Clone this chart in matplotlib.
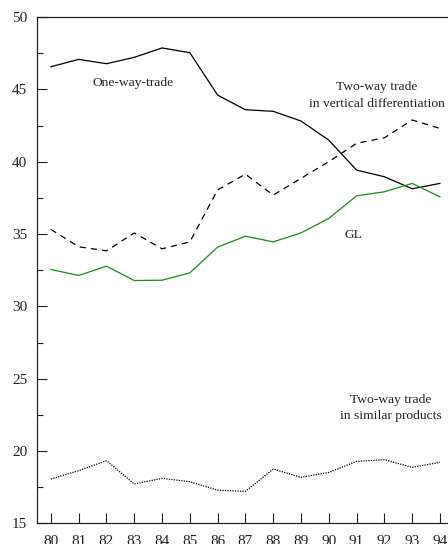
import matplotlib
matplotlib.use("Agg")
import matplotlib.pyplot as plt
from matplotlib.ticker import MultipleLocator

plt.rcParams['font.family'] = ['Liberation Serif', 'DejaVu Serif']

years = list(range(80, 95))
year_labels = [str(y) for y in years]

one_way = [46.56, 47.07, 46.77, 47.21, 47.86, 47.53, 44.6, 43.59, 43.48,
           42.81, 41.49, 39.42, 38.96, 38.13, 38.5]
vertical = [35.32, 34.12, 33.84, 35.08, 33.98, 34.46, 38.05, 39.14, 37.69,
            38.85, 40.0, 41.27, 41.65, 42.88, 42.3]
gl = [32.55, 32.14, 32.78, 31.79, 31.81, 32.32, 34.1, 34.85, 34.46,
      35.08, 36.08, 37.64, 37.92, 38.5, 37.57]
similar = [18.07, 18.65, 19.34, 17.73, 18.12, 17.89, 17.3, 17.22, 18.76,
           18.19, 18.53, 19.29, 19.41, 18.88, 19.23]

fig = plt.figure(figsize=(4.48, 5.44), dpi=100)
ax = fig.add_axes([0.0826, 0.0377, 1.0 - 0.0826, 0.9688 - 0.0377])

ax.plot(years, one_way, color='black', lw=0.9)
ax.plot(years, vertical, color='black', lw=0.9, dashes=(5, 4))
ax.plot(years, gl, color='#1a8c1a', lw=0.9)
ax.plot(years, similar, color='black', lw=0.9, linestyle=(0, (1, 1)))

ax.set_xlim(79.5, 94.29)
ax.set_ylim(15, 50)
ax.set_xticks(years)
ax.set_xticklabels(year_labels)
ax.yaxis.set_major_locator(MultipleLocator(5))
ax.yaxis.set_minor_locator(MultipleLocator(2.5))

ax.tick_params(axis='both', which='major', direction='in', length=7,
               width=0.8, labelsize=11, pad=7, colors='#222222')
ax.tick_params(axis='y', which='minor', direction='in', length=4.3, width=0.8,
               colors='#222222')
ax.tick_params(axis='x', which='major', pad=8)

for s in ['left', 'bottom', 'top']:
    ax.spines[s].set_linewidth(0.9)
    ax.spines[s].set_color('#222222')
ax.spines['right'].set_visible(False)

txt = dict(fontsize=9.7, ha='center', va='center', color='#222222', linespacing=1.55)
ax.text(82.95, 45.46, 'One-way-trade', **txt)
ax.text(91.74, 44.57, 'Two-way trade\nin vertical differentiation', **txt)
ax.text(90.9, 34.92, 'GL', **txt)
ax.text(92.22, 22.98, 'Two-way trade\nin similar products', **txt)

fig.savefig('out.png', dpi=100)
